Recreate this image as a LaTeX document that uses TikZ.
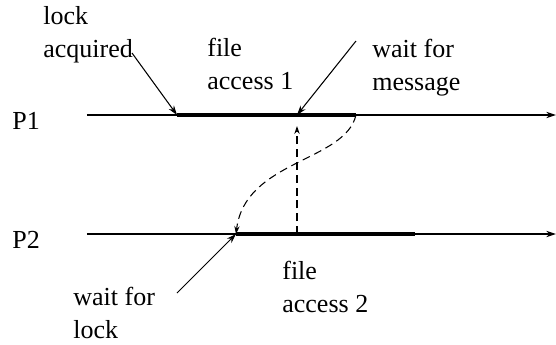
\documentclass[tikz,border=0pt]{standalone}
\usepackage{fontspec}
\setmainfont{Liberation Serif}
\usetikzlibrary{arrows.meta, positioning, calc}

\begin{document}
\begin{tikzpicture}[
        x=0.02cm, y=-0.02cm,
        lbl/.style={inner sep=0pt, align=left, anchor=base west, font=\fontsize{14.8}{18.3}\selectfont},
        timeline/.style={line width=0.6pt, -{Stealth[length=5.5pt, width=3.6pt]}},
        busy/.style={line width=2.6pt},
        arrow/.style={line width=0.6pt, -{Stealth[length=5.5pt, width=3.6pt]}},
        msg/.style={line width=0.6pt, dash pattern=on 4.5pt off 2.8pt, -{Stealth[length=4.5pt, width=3pt]}}
    ]
        \useasboundingbox (0,0) rectangle (556,345);

        % Processes
        \node[lbl] (p1) at (12,129) {P1};
        \node[lbl] (p2) at (12,248) {P2};
        \coordinate (p1s) at (87,115);
        \coordinate (p1e) at (556,115);
        \coordinate (p2s) at (87,234);
        \coordinate (p2e) at (556,234);

        % Critical sections
        \coordinate (fa1s) at (177,115);
        \coordinate (fa1e) at (356,115);
        \coordinate (fa2s) at (236,234);
        \coordinate (fa2e) at (415,234);
        \coordinate (recv) at (297,115);
        \coordinate (send) at (297,234);
        \coordinate (recvtip) at (297,126);

        % Labels (anchored at the last line)
        \node[lbl] (acq) at (43,57) {lock\\acquired};
        \node[lbl] (file1) at (207,89) {file\\access 1};
        \node[lbl] (waitmsg) at (372,90) {wait for\\message};
        \node[lbl] (file2) at (282,312) {file\\access 2};
        \node[lbl] (waitlock) at (73,338) {wait for\\lock};
        \coordinate (acqfrom) at (132,53);
        \coordinate (msgfrom) at (356,41);
        \coordinate (lockfrom) at (177,293);

        \draw[timeline] (p1s) -- (p1e);
        \draw[timeline] (p2s) -- (p2e);
        \draw[busy] (fa1s) -- (fa1e);
        \draw[busy] (fa2s) -- (fa2e);

        \draw[arrow] (acqfrom) -- (fa1s);
        \draw[arrow] (msgfrom) -- (recv);
        \draw[arrow] (lockfrom) -- (fa2s);

        \draw[msg] (send) -- (recvtip);
        \draw[msg] (fa1e) .. controls (345,162) and (245,160) .. (fa2s);
    \end{tikzpicture}
\end{document}
